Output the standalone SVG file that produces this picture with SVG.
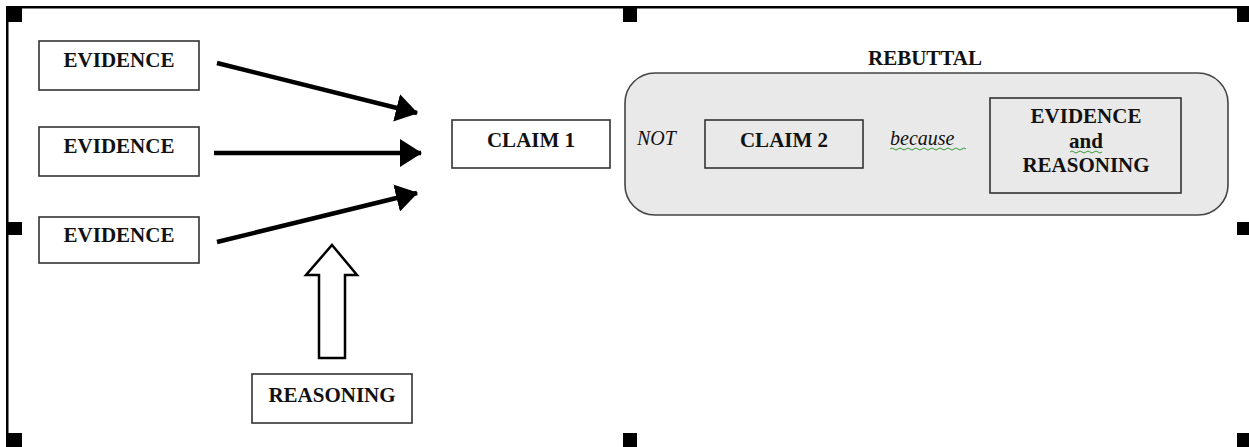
<svg xmlns="http://www.w3.org/2000/svg" width="1249" height="447" viewBox="0 0 1249 447">
<style>
.box{fill:#fff;stroke:#333;stroke-width:1.6}
.lbl{font-family:"Liberation Serif","Times New Roman",serif;font-weight:bold;font-size:21px;fill:#111;text-anchor:middle}
.it{font-family:"Liberation Serif","Times New Roman",serif;font-style:italic;font-size:20px;fill:#111}
.conn{stroke:#000;stroke-width:4.5;fill:none}
.handle{fill:#000}
.wave{fill:none;stroke:#3a9a3a;stroke-width:1}
</style>
<defs>
<marker id="ah" markerUnits="userSpaceOnUse" markerWidth="22" markerHeight="28" refX="21" refY="14" orient="auto" viewBox="0 0 22 28">
<path d="M0,0 L22,14 L0,28 Z" fill="#000"/>
</marker>
</defs>
<rect width="1249" height="447" fill="#fff"/>
<g id="frame">
<rect x="6" y="6" width="1243" height="2.5" fill="#000"/>
<rect x="6" y="6" width="2.5" height="441" fill="#000"/>
<rect class="handle" x="7" y="8" width="15" height="14"/>
<rect class="handle" x="623" y="8" width="14" height="14"/>
<rect class="handle" x="1237" y="6" width="12" height="16"/>
<rect class="handle" x="7" y="222" width="15" height="13"/>
<rect class="handle" x="1237" y="222" width="12" height="13"/>
<rect class="handle" x="7" y="433" width="15" height="14"/>
<rect class="handle" x="623" y="433" width="14" height="14"/>
<rect class="handle" x="1237" y="433" width="12" height="14"/>
</g>
<g id="connectors">
<line class="conn" x1="217" y1="63" x2="417" y2="113" marker-end="url(#ah)"/>
<line class="conn" x1="214" y1="153" x2="421" y2="153" marker-end="url(#ah)"/>
<line class="conn" x1="217" y1="242" x2="417" y2="193" marker-end="url(#ah)"/>
<path id="reasoning-arrow" d="M332,245 L357,275 L345,275 L345,358 L319,358 L319,275 L306,275 Z" fill="#fff" stroke="#000" stroke-width="2.5" stroke-linejoin="miter"/>
</g>
<g id="evidence1">
<rect class="box" x="39" y="41" width="160" height="49"/>
<text class="lbl" x="119" y="67">EVIDENCE</text>
</g>
<g id="evidence2">
<rect class="box" x="39" y="127" width="160" height="49"/>
<text class="lbl" x="119" y="153">EVIDENCE</text>
</g>
<g id="evidence3">
<rect class="box" x="39" y="217" width="160" height="46"/>
<text class="lbl" x="119" y="242">EVIDENCE</text>
</g>
<g id="reasoning">
<rect class="box" x="252" y="374" width="160" height="49"/>
<text class="lbl" x="332" y="402">REASONING</text>
</g>
<g id="claim1">
<rect class="box" x="452" y="120" width="158" height="48"/>
<text class="lbl" x="531" y="147">CLAIM 1</text>
</g>
<g id="rebuttal">
<text class="lbl" x="925" y="65">REBUTTAL</text>
<rect x="625" y="73" width="603" height="142" rx="30" ry="30" fill="#e9e9e9" stroke="#444" stroke-width="1.6"/>
<text class="it" x="637" y="145">NOT</text>
<g id="claim2">
<rect x="705" y="120" width="158" height="48" fill="none" stroke="#333" stroke-width="1.6"/>
<text class="lbl" x="784" y="147">CLAIM 2</text>
</g>
<text class="it" x="890" y="145">because</text>
<path class="wave" d="M890,149 q2,-2 4,0 t4,0 t4,0 t4,0 t4,0 t4,0 t4,0 t4,0 t4,0 t4,0 t4,0 t4,0 t4,0 t4,0 t4,0 t4,0 t4,0 t4,0 t4,0"/>
<g id="evidence-reasoning">
<rect x="990" y="98" width="191" height="95" fill="none" stroke="#333" stroke-width="1.6"/>
<text class="lbl" x="1086" y="123">EVIDENCE</text>
<text class="lbl" x="1086" y="148">and</text>
<path class="wave" d="M1070,152 q2,-2 4,0 t4,0 t4,0 t4,0 t4,0 t4,0 t4,0 t4,0"/>
<text class="lbl" x="1086" y="172">REASONING</text>
</g>
</g>
</svg>
